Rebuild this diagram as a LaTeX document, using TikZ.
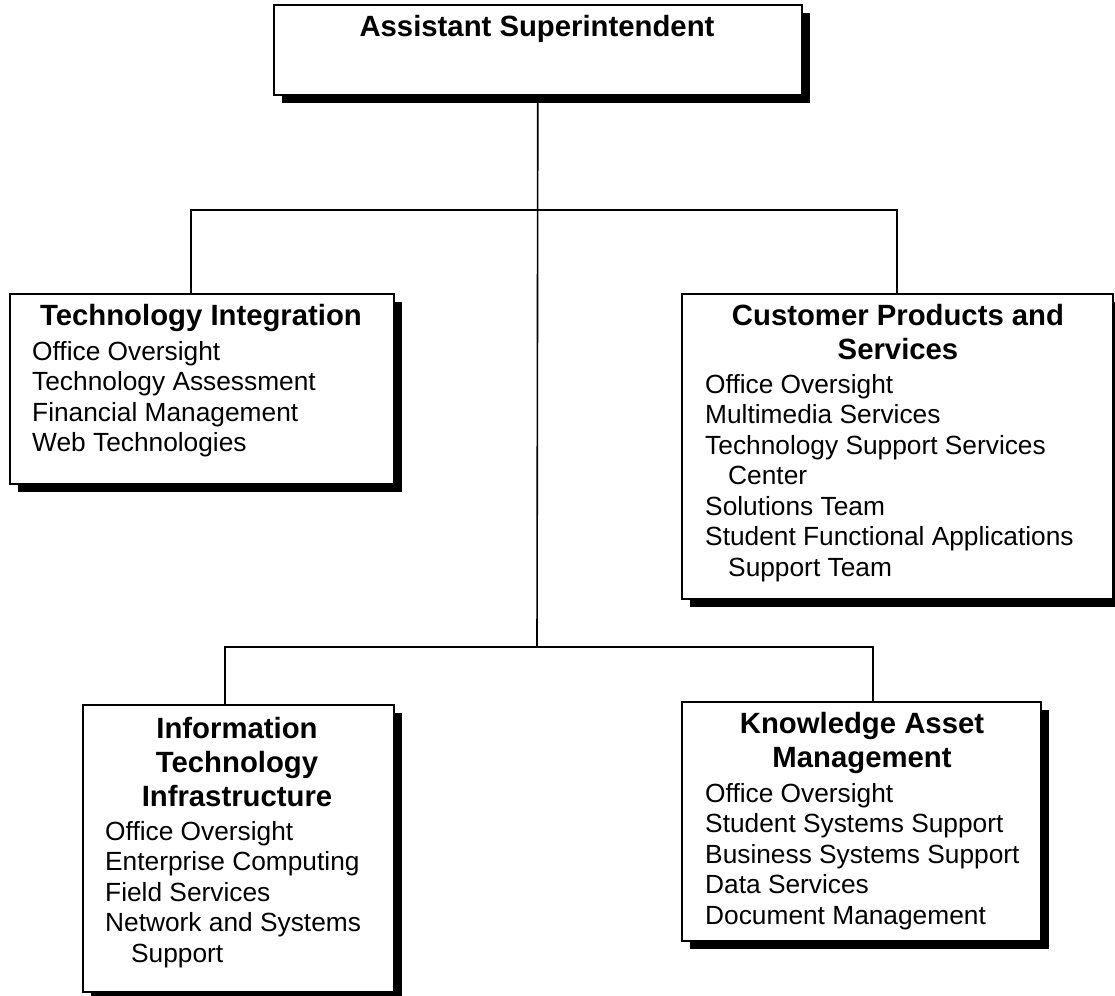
\documentclass[tikz,border=0pt]{standalone}
\usepackage{fontspec}
\setmainfont{Liberation Sans}
\usetikzlibrary{shadows}
\newcommand{\orgtitle}[1]{\parbox[t]{420pt}{\fontsize{29.3}{34}\selectfont\bfseries\centering #1\par}}
\newcommand{\orgitems}[1]{\parbox[t]{420pt}{\fontsize{26.3}{30.5}\selectfont\raggedright #1\par}}
\begin{document}
\begin{tikzpicture}[x=1pt,y=-1pt,
  orgbox/.style={draw=black, line width=1.6pt, fill=white, rectangle, inner sep=0pt,
    anchor=north west,
    drop shadow={shadow xshift=8.5pt, shadow yshift=-8.5pt, fill=black, opacity=1}},
  titletext/.style={inner sep=0pt, anchor=base},
  itemtext/.style={inner sep=0pt, anchor=base west},
  conn/.style={draw=black, line width=1.6pt}]
\useasboundingbox[fill=white] (0,0) rectangle (1115,995);

% boxes
\node[orgbox, minimum width=528pt, minimum height=90pt] (top) at (273,4) {};
\node[orgbox, minimum width=384pt, minimum height=190pt] (ti) at (9,293) {};
\node[orgbox, minimum width=431pt, minimum height=305pt] (cps) at (681,293) {};
\node[orgbox, minimum width=311pt, minimum height=287pt] (iti) at (82,704) {};
\node[orgbox, minimum width=359pt, minimum height=239pt] (kam) at (681,701) {};

% junctions
\coordinate (j1) at (537,210);
\coordinate (j2) at (537,647);

% connectors
\draw[conn] (top.south) -- (j2);
\draw[conn] ([xshift=182pt]ti.north west) |- (j1) -| ([xshift=216pt]cps.north west);
\draw[conn] ([xshift=143pt]iti.north west) |- (j2) -| ([xshift=192pt]kam.north west);

% texts
\node[titletext] (top-t) at (537,37) {\orgtitle{Assistant Superintendent}};

\node[titletext] (ti-t) at (201,325) {\orgtitle{Technology Integration}};
\node[itemtext] (ti-i) at (32,360) {\orgitems{Office Oversight\\Technology Assessment\\Financial Management\\Web Technologies}};

\node[titletext] (cps-t) at (898,325) {\orgtitle{Customer Products and\\Services}};
\node[itemtext] (cps-i) at (705,393) {\orgitems{Office Oversight\\Multimedia Services\\Technology Support Services\\\hspace*{23pt}Center\\Solutions Team\\Student Functional Applications\\\hspace*{23pt}Support Team}};

\node[titletext] (iti-t) at (237,738) {\orgtitle{Information\\Technology\\Infrastructure}};
\node[itemtext] (iti-i) at (105,840) {\orgitems{Office Oversight\\Enterprise Computing\\Field Services\\Network and Systems\\\hspace*{26pt}Support}};

\node[titletext] (kam-t) at (862,733) {\orgtitle{Knowledge Asset\\Management}};
\node[itemtext] (kam-i) at (705,802) {\orgitems{Office Oversight\\Student Systems Support\\Business Systems Support\\Data Services\\Document Management}};
\end{tikzpicture}
\end{document}
